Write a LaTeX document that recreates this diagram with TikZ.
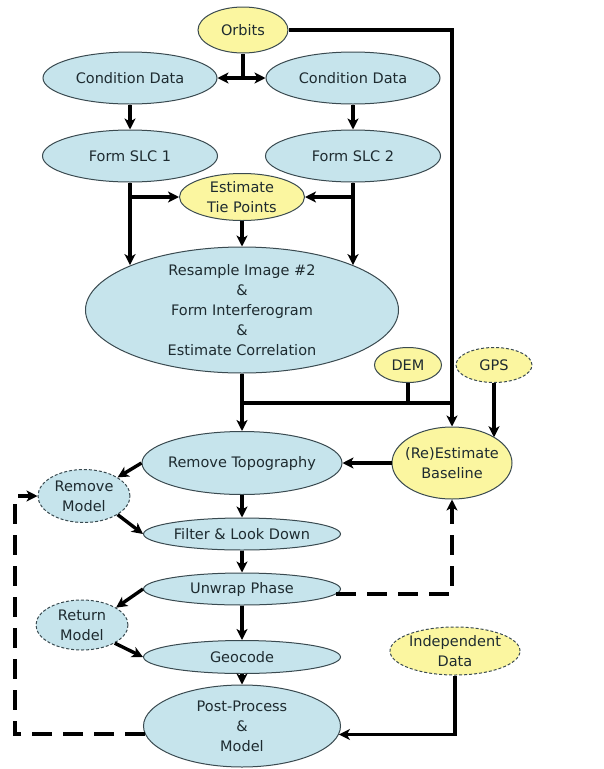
\documentclass[tikz,border=0pt]{standalone}
\usepackage{fontspec}
\setmainfont{DejaVu Sans}
\usetikzlibrary{arrows.meta,shapes.geometric,calc}
\definecolor{bfill}{HTML}{C6E4EC}
\definecolor{yfill}{HTML}{FBF6A0}
\definecolor{bord}{HTML}{3A4A50}
\definecolor{txtc}{HTML}{1E2B30}
\begin{document}
\begin{tikzpicture}[x=1pt,y=-1pt,
  shp/.style={ellipse, draw=bord, line width=1pt, inner sep=0pt},
  bl/.style={shp, fill=bfill},
  yl/.style={shp, fill=yfill},
  dsh/.style={dash pattern=on 3pt off 2pt},
  sz/.style 2 args={minimum width=#1, minimum height=#2},
  tl/.style={align=center, inner sep=0pt, text=txtc, font=\fontsize{14.5}{20}\selectfont},
  ln/.style={line width=3.4pt, draw=black},
  conn/.style={ln, -{Stealth[length=11pt,width=11pt,inset=3pt]}},
  conn2/.style={ln, {Stealth[length=11pt,width=11pt,inset=3pt]}-{Stealth[length=11pt,width=11pt,inset=3pt]}},
  dconn/.style={line width=4pt, dash pattern=on 20pt off 11pt, -{Stealth[length=11pt,width=11pt,inset=3pt]}}
]
\useasboundingbox (0,0) rectangle (603,769);
\fill[white] (0,0) rectangle (603,769);

% shapes
\node[yl, sz={90}{46}] (orbits) at (243,30) {};
\node[bl, sz={174}{52}] (cd1) at (130,78) {};
\node[bl, sz={174}{52}] (cd2) at (353,78) {};
\node[bl, sz={175}{52}] (slc1) at (130,156) {};
\node[bl, sz={175}{52}] (slc2) at (353,156) {};
\node[yl, sz={125}{47}] (tie) at (242,197) {};
\node[bl, sz={313}{126}] (res) at (242,310) {};
\node[yl, sz={67}{35}] (dem) at (408,365) {};
\node[yl, dsh, sz={76}{35}] (gps) at (494,365) {};
\node[bl, sz={200}{63}] (topo) at (242,463) {};
\node[yl, sz={120}{72}] (base) at (452,463) {};
\node[bl, dsh, sz={92}{53}] (rmodel) at (84,496) {};
\node[bl, sz={197}{32}] (filter) at (242,534) {};
\node[bl, sz={197}{32}] (unwrap) at (242,589) {};
\node[bl, dsh, sz={92}{50}] (retmodel) at (82,625) {};
\node[bl, sz={197}{33}] (geo) at (242,657) {};
\node[bl, sz={197}{82}] (post) at (242,726) {};
\node[yl, dsh, sz={130}{48}] (indep) at (455,651) {};

% texts
\node[tl] (orbitsT) at (orbits) {Orbits};
\node[tl] (cd1T) at (cd1) {Condition Data};
\node[tl] (cd2T) at (cd2) {Condition Data};
\node[tl] (slc1T) at (slc1) {Form SLC 1};
\node[tl] (slc2T) at (slc2) {Form SLC 2};
\node[tl] (tieT) at (tie) {Estimate\\Tie Points};
\node[tl] (resT) at (res) {Resample Image \#2\\\&\\Form Interferogram\\\&\\Estimate Correlation};
\node[tl] (demT) at (dem) {DEM};
\node[tl] (gpsT) at (gps) {GPS};
\node[tl] (topoT) at (topo) {Remove Topography};
\node[tl] (baseT) at (base) {(Re)Estimate\\Baseline};
\node[tl] (rmodelT) at (rmodel) {Remove\\Model};
\node[tl] (filterT) at (filter) {Filter \& Look Down};
\node[tl] (unwrapT) at (unwrap) {Unwrap Phase};
\node[tl] (retmodelT) at (retmodel) {Return\\Model};
\node[tl] (geoT) at (geo) {Geocode};
\node[tl] (postT) at (post) {Post-Process\\\&\\Model};
\node[tl] (indepT) at (indep) {Independent\\Data};

% connectors
\coordinate (j) at (242,403);
\coordinate (lp) at (15,600);
\draw[conn] (orbits.east) -| (base.north);
\draw[ln] (orbits.south) -- (orbits.south |- cd1.east);
\draw[conn2] (cd1.east) -- (cd2.west);
\draw[conn] (cd1.south) -- (slc1.north);
\draw[conn] (cd2.south) -- (slc2.north);
\draw[conn] (slc1.south) -- (slc1.south |- res.158);
\draw[conn] (slc1.south |- tie.west) -- (tie.west);
\draw[conn] (slc2.south) -- (slc2.south |- res.22);
\draw[conn] (slc2.south |- tie.east) -- (tie.east);
\draw[conn] (tie.south) -- (res.north);
\draw[conn] (res.south) -- (topo.north);
\draw[ln] (j) -- (j -| base.north);
\draw[ln] (dem.south) -- (dem.south |- j);
\draw[conn] (gps.south) -- (gps.south |- base.31);
\draw[conn] (base.west) -- (topo.east);
\draw[conn] (topo.west) -- (rmodel.29);
\draw[conn] (rmodel.-29) -- (filter.west);
\draw[conn] (topo.south) -- (filter.north);
\draw[conn] (filter.south) -- (unwrap.north);
\draw[conn] (unwrap.west) -- (retmodel.27);
\draw[conn] (retmodel.-29) -- (geo.west);
\draw[conn] (unwrap.south) -- (geo.north);
\draw[conn] (geo.south) -- (post.north);
\draw[dconn] (unwrap.-3) -| (base.south);
\draw[conn] (indep.south) |- (post.-5);
\draw[dconn] (post.185) -| (lp) |- (rmodel.west);
\end{tikzpicture}
\end{document}
